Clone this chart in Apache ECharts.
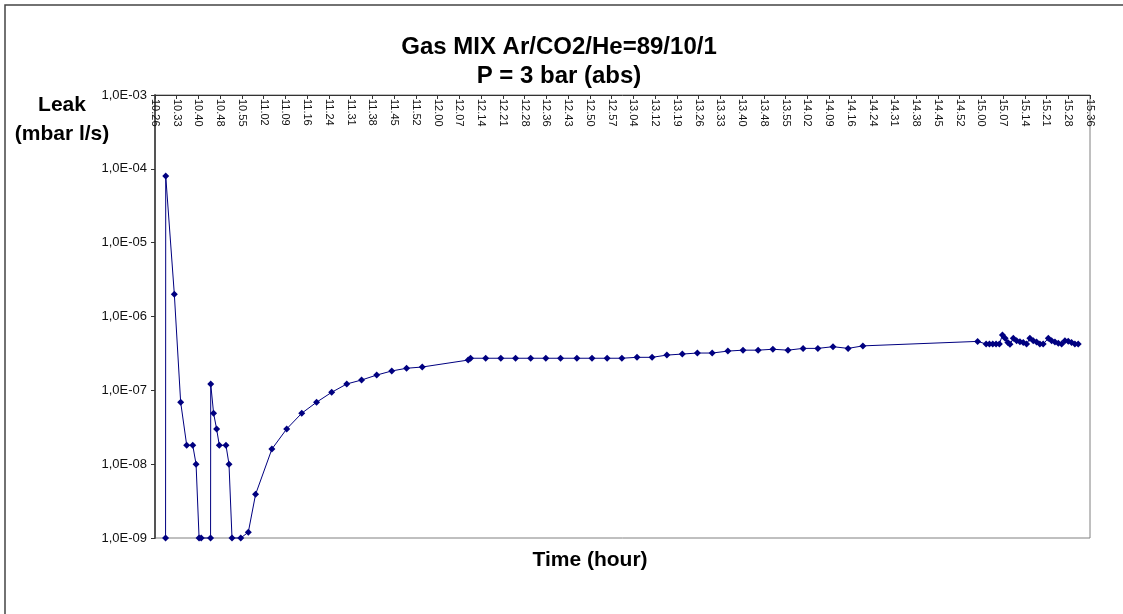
<!DOCTYPE html>
<html>
<head>
<meta charset="utf-8">
<script src="https://cdn.jsdelivr.net/npm/echarts@6/dist/echarts.min.js"></script>
<style>
html,body{margin:0;padding:0;background:#fff;}
#chart{width:1123px;height:614px;}
</style>
</head>
<body>
<div id="chart"></div>
<script>
// Time of each reading, in minutes after midnight
const timeMinutes = [
  629.9, 629.95, 632.8, 634.9, 636.9, 638.9, 640.0, 641.0, 641.7, 644.8,
  644.85, 645.8, 646.8, 647.7, 649.9, 650.9, 651.9, 654.8, 657.3, 659.7,
  665.1, 670.0, 675.0, 679.9, 684.9, 689.9, 694.8, 699.8, 704.8, 709.7,
  714.9, 730.1, 730.9, 735.9, 740.9, 745.8, 750.8, 755.8, 760.7, 766.1,
  771.1, 776.1, 781.0, 786.0, 791.0, 795.9, 801.0, 806.0, 810.9, 816.1,
  821.1, 826.1, 831.0, 836.0, 841.0, 845.9, 850.9, 855.9, 860.8, 898.8,
  901.6, 902.7, 903.8, 904.9, 906.0, 907.0, 907.9, 908.8, 909.5, 910.6,
  911.7, 912.8, 913.9, 915.0, 916.1, 917.2, 918.3, 919.4, 920.5, 922.2,
  923.3, 924.4, 925.5, 926.6, 927.7, 928.8, 929.9, 931.0, 932.1
];
// Leak rate (mbar l/s)
const leakValues = [
  1e-9, 8.0e-5, 2.0e-6, 6.9e-8, 1.8e-8, 1.8e-8, 1.0e-8, 1e-9, 1e-9, 1e-9,
  1.22e-7, 4.9e-8, 3.0e-8, 1.8e-8, 1.8e-8, 1.0e-8, 1e-9, 1e-9, 1.2e-9, 3.9e-9,
  1.6e-8, 3.0e-8, 4.9e-8, 6.9e-8, 9.4e-8, 1.22e-7, 1.38e-7, 1.61e-7, 1.83e-7, 1.99e-7,
  2.07e-7, 2.57e-7, 2.72e-7, 2.72e-7, 2.72e-7, 2.72e-7, 2.72e-7, 2.72e-7, 2.72e-7, 2.72e-7,
  2.72e-7, 2.72e-7, 2.72e-7, 2.8e-7, 2.8e-7, 3.0e-7, 3.1e-7, 3.2e-7, 3.2e-7, 3.4e-7,
  3.5e-7, 3.5e-7, 3.6e-7, 3.5e-7, 3.7e-7, 3.7e-7, 3.9e-7, 3.7e-7, 4.0e-7, 4.6e-7,
  4.24e-7, 4.24e-7, 4.24e-7, 4.24e-7, 4.24e-7, 5.6e-7, 5.06e-7, 4.45e-7, 4.2e-7, 5.06e-7,
  4.7e-7, 4.56e-7, 4.45e-7, 4.24e-7, 5.06e-7, 4.7e-7, 4.5e-7, 4.24e-7, 4.24e-7, 5.06e-7,
  4.7e-7, 4.5e-7, 4.33e-7, 4.24e-7, 4.7e-7, 4.61e-7, 4.45e-7, 4.24e-7, 4.24e-7
];
// Axis settings (minutes after midnight; 7.2 min = 0.005 day steps)
const xMin = 626.4, xMax = 936, xStep = 7.2;
const yMin = 1e-9, yMax = 1e-3;

const titleLines = ['Gas MIX Ar/CO2/He=89/10/1', 'P = 3 bar (abs)'];
const yTitle = ['Leak', '(mbar l/s)'];
const xTitle = 'Time (hour)';

const FONT = 'Liberation Sans, Arial, sans-serif';
const points = timeMinutes.map((t, i) => [t, leakValues[i]]);

function fmtTime(v) {
  v = Math.round(v * 1000) / 1000;
  const h = Math.floor(v / 60 + 1e-9);
  const m = Math.floor(v - h * 60 + 1e-6);
  return h + '.' + String(m).padStart(2, '0');
}
function fmtSci(v) {
  const e = Math.round(Math.log10(v));
  const sign = e < 0 ? '-' : '+';
  return '1,0E' + sign + String(Math.abs(e)).padStart(2, '0');
}

const chart = echarts.init(document.getElementById('chart'), null, {renderer: 'canvas'});
chart.setOption({
  animation: false,
  backgroundColor: '#ffffff',
  grid: {left: 155, right: 33, top: 95, bottom: 76, show: true,
         borderColor: '#808080', borderWidth: 1, backgroundColor: 'transparent'},
  xAxis: {
    type: 'value', position: 'top', min: xMin, max: xMax, interval: xStep,
    axisLine: {onZero: false, lineStyle: {color: '#333', width: 1}},
    axisTick: {inside: true, length: 4, lineStyle: {color: '#333'}},
    axisLabel: {inside: true, rotate: 90, margin: 4, fontSize: 11, color: '#111',
                fontFamily: FONT, formatter: fmtTime, showMinLabel: true, showMaxLabel: true},
    splitLine: {show: false}
  },
  yAxis: {
    type: 'log', logBase: 10, min: yMin, max: yMax,
    axisLine: {show: true, onZero: false, lineStyle: {color: '#555', width: 2}},
    axisTick: {show: true, length: 4, lineStyle: {color: '#333'}},
    axisLabel: {fontSize: 13, color: '#111', margin: 8, fontFamily: FONT, formatter: fmtSci},
    splitLine: {show: false}
  },
  series: [{
    type: 'line', data: points, clip: false,
    symbol: 'diamond', symbolSize: 7,
    itemStyle: {color: '#000080'},
    lineStyle: {color: '#000080', width: 1}
  }],
  graphic: [
    {type: 'rect', shape: {x: 5, y: 5, width: 1300, height: 800}, silent: true,
     style: {fill: 'none', stroke: '#444', lineWidth: 1.5}},
    {type: 'text', x: 559, y: 47, style: {text: titleLines[0], font: 'bold 24px ' + FONT,
      fill: '#000', textAlign: 'center', textVerticalAlign: 'middle'}},
    {type: 'text', x: 559, y: 76, style: {text: titleLines[1], font: 'bold 24px ' + FONT,
      fill: '#000', textAlign: 'center', textVerticalAlign: 'middle'}},
    {type: 'text', x: 62, y: 105, style: {text: yTitle[0], font: 'bold 21px ' + FONT,
      fill: '#000', textAlign: 'center', textVerticalAlign: 'middle'}},
    {type: 'text', x: 62, y: 134, style: {text: yTitle[1], font: 'bold 21px ' + FONT,
      fill: '#000', textAlign: 'center', textVerticalAlign: 'middle'}},
    {type: 'text', x: 590, y: 560, style: {text: xTitle, font: 'bold 21px ' + FONT,
      fill: '#000', textAlign: 'center', textVerticalAlign: 'middle'}}
  ]
});
</script>
</body>
</html>
